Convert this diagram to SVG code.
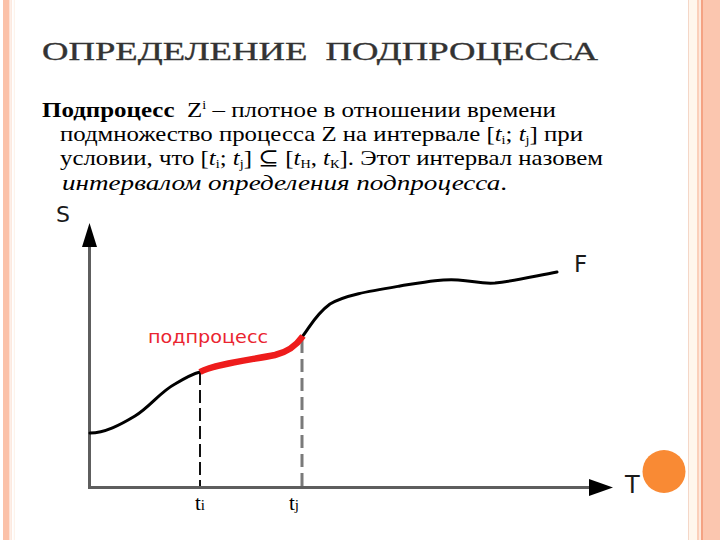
<svg xmlns="http://www.w3.org/2000/svg" width="720" height="540" viewBox="0 0 720 540">
<defs>
<style>
.body{font-family:"Liberation Serif","DejaVu Serif",serif;font-size:21px;fill:#000}
.sans{font-family:"DejaVu Sans","Liberation Sans",sans-serif}
.axis{stroke:#5e5e5e;stroke-width:3;fill:none}
.head{fill:#000}
.curve{stroke:#000;stroke-width:3;fill:none;stroke-linecap:round}
</style>
</defs>
<rect width="720" height="540" fill="#fff"/>
<g id="border-left">
<rect x="3" y="0" width="6.5" height="540" fill="#fbc1a8"/>
<rect x="10.5" y="0" width="1.2" height="540" fill="#fbe0d2"/>
<rect x="13.8" y="0" width="1" height="540" fill="#fdf1e6"/>
</g>
<g id="border-right">
<rect x="688" y="0" width="1.2" height="540" fill="#f5d7c7"/>
<rect x="689.2" y="0" width="8" height="540" fill="#fff6ec"/>
<rect x="697" y="0" width="2" height="540" fill="#fbcfba"/>
<rect x="699" y="0" width="2" height="540" fill="#fde8dc"/>
<rect x="701" y="0" width="2" height="540" fill="#f4a283"/>
<rect x="703" y="0" width="17" height="540" fill="#fbc6af"/>
</g>
<circle id="bullet" cx="664" cy="471.5" r="21.5" fill="#f98a34"/>
<g id="title">
<text x="42" y="60" font-family="'Liberation Serif','DejaVu Serif',serif" font-size="26" fill="#333" stroke="#333" stroke-width="0.35" textLength="556" lengthAdjust="spacingAndGlyphs">ОПРЕДЕЛЕНИЕ&#160; ПОДПРОЦЕССА</text>
</g>
<g id="definition" class="body">
<text class="body" x="42" y="117" textLength="514" lengthAdjust="spacingAndGlyphs"><tspan font-weight="bold">Подпроцесс</tspan>&#160; Z<tspan font-size="12" dy="-8">i</tspan><tspan dy="8"> – плотное в отношении времени</tspan></text>
<text class="body" x="60" y="141" textLength="523" lengthAdjust="spacingAndGlyphs">подмножество процесса Z на интервале [<tspan font-style="italic">t</tspan><tspan font-size="12" dy="3">i</tspan><tspan dy="-3">; </tspan><tspan font-style="italic">t</tspan><tspan font-size="12" dy="3">j</tspan><tspan dy="-3">] при</tspan></text>
<text class="body" x="60" y="165" textLength="543" lengthAdjust="spacingAndGlyphs">условии, что [<tspan font-style="italic">t</tspan><tspan font-size="12" dy="3">i</tspan><tspan dy="-3">; </tspan><tspan font-style="italic">t</tspan><tspan font-size="12" dy="3">j</tspan><tspan dy="-3">] ⊆ [</tspan><tspan font-style="italic">t</tspan><tspan font-size="12" dy="3">Н</tspan><tspan dy="-3">, </tspan><tspan font-style="italic">t</tspan><tspan font-size="12" dy="3">К</tspan><tspan dy="-3">]. Этот интервал назовем</tspan></text>
<text class="body" x="62" y="190" textLength="445" lengthAdjust="spacingAndGlyphs"><tspan font-style="italic">интервалом определения подпроцесса</tspan>.</text>
</g>
<g id="connectors">
<g id="axis-s">
<line class="axis" x1="89.5" y1="246" x2="89.5" y2="489"/>
<polygon class="head" points="89.5,223 82,247 97,247"/>
</g>
<g id="axis-t">
<line class="axis" x1="88" y1="487.5" x2="591" y2="487.5"/>
<polygon class="head" points="613,487.5 589,479 589,496"/>
</g>
<line id="dash-ti" x1="200" y1="372" x2="200" y2="486" stroke="#111" stroke-width="2" stroke-dasharray="13 5"/>
<line id="dash-tj" x1="302" y1="340" x2="302" y2="486" stroke="#7a7a7a" stroke-width="3" stroke-dasharray="13 6"/>
</g>
<g id="process-F">
<path class="curve" d="M90,433 C105,433 120,425 135,416 C150,407 160,392 175,384 C185,378 192,374 200,372"/>
<path class="curve" d="M302,337 C310,327 315,315 330,304 C345,295 370,291 400,286 C425,282 440,279 458,280 C475,281 480,284 495,283 C515,281 535,276 557,272"/>
</g>
<g id="subprocess">
<path d="M200,372 C215,364 250,360 275,355 C288,352 296,346 303,336" stroke="#ee1c1c" stroke-width="6.5" fill="none"/>
</g>
<g id="labels">
<text class="sans" x="56" y="222" font-size="22" fill="#1a1a1a">S</text>
<text class="sans" x="574" y="272" font-size="23" fill="#1a1a1a">F</text>
<text class="sans" x="625" y="493" font-size="24" fill="#1a1a1a">T</text>
<text class="sans" x="148" y="343" font-size="18" fill="#ea2430" textLength="120" lengthAdjust="spacingAndGlyphs">подпроцесс</text>
<text class="body" x="195" y="510" font-size="20">t<tspan font-size="15">i</tspan></text>
<text class="body" x="289" y="510" font-size="20">t<tspan font-size="15">j</tspan></text>
</g>
</svg>
